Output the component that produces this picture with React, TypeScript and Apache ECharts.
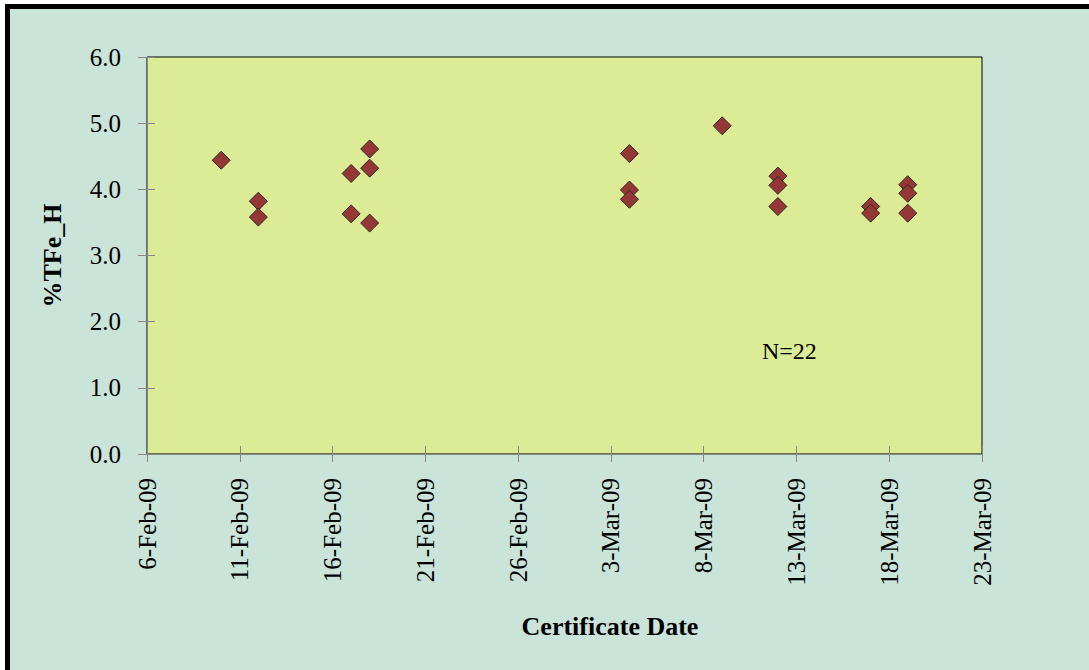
import React, { useEffect, useRef } from "react";
import * as echarts from "echarts";

const certDates: string[] = [
  "2009-02-10",
  "2009-02-12", "2009-02-12",
  "2009-02-17", "2009-02-17",
  "2009-02-18", "2009-02-18", "2009-02-18",
  "2009-03-04", "2009-03-04", "2009-03-04",
  "2009-03-09",
  "2009-03-12", "2009-03-12", "2009-03-12",
  "2009-03-17", "2009-03-17",
  "2009-03-19", "2009-03-19", "2009-03-19",
];
const tfeValues: number[] = [
  4.44,
  3.82, 3.58,
  4.24, 3.63,
  4.61, 4.32, 3.49,
  4.54, 3.99, 3.85,
  4.96,
  4.2, 4.06, 3.74,
  3.74, 3.64,
  4.07, 3.94, 3.64,
];
const xStart = "2009-02-06";
const xEnd = "2009-03-23";
const xStepDays = 5;
const yMin = 0;
const yMax = 6;
const yStep = 1;
const monthNames = ["Jan", "Feb", "Mar", "Apr", "May", "Jun", "Jul", "Aug", "Sep", "Oct", "Nov", "Dec"];
const xTitle = "Certificate Date";
const yTitle = "%TFe_H";
const noteText = "N=22";

const DAY = 86400000;
const toTs = (s: string) => {
  const [y, m, d] = s.split("-").map(Number);
  return Date.UTC(y, m - 1, d);
};
const fmtDate = (v: number) => {
  const d = new Date(v);
  const yy = String(d.getUTCFullYear() % 100).padStart(2, "0");
  return `${d.getUTCDate()}-${monthNames[d.getUTCMonth()]}-${yy}`;
};

const FONT = "'Liberation Serif', 'Times New Roman', serif";
const GRAY = "#868686";

export default function App() {
  const ref = useRef<HTMLDivElement>(null);
  useEffect(() => {
    if (!ref.current) return;
    const chart = echarts.init(ref.current, undefined, { renderer: "svg" });
    const min = toTs(xStart);
    const max = toTs(xEnd);
    const data = certDates.map((d, i) => [toTs(d), tfeValues[i]]);
    const xCommon = {
      type: "value" as const,
      min,
      max,
      interval: xStepDays * DAY,
      splitLine: { show: false },
    };
    const yCommon = {
      type: "value" as const,
      min: yMin,
      max: yMax,
      interval: yStep,
      splitLine: { show: false },
    };
    chart.setOption({
      animation: false,
      backgroundColor: "transparent",
      grid: {
        left: 147,
        right: 107,
        top: 57,
        bottom: 216,
        show: true,
        backgroundColor: "#dbeb96",
        borderColor: "#000",
        borderWidth: 1,
      },
      xAxis: [
        {
          ...xCommon,
          position: "bottom",
          axisLine: { show: true, lineStyle: { color: GRAY, width: 1 } },
          axisTick: { show: true, length: 8, lineStyle: { color: GRAY } },
          axisLabel: {
            rotate: 90,
            margin: 24,
            fontFamily: FONT,
            fontSize: 25,
            color: "#000",
            formatter: (v: number) => fmtDate(v),
          },
        },
        {
          ...xCommon,
          position: "bottom",
          axisLine: { show: false },
          axisTick: { show: true, inside: true, length: 8, lineStyle: { color: GRAY } },
          axisLabel: { show: false },
        },
      ],
      yAxis: [
        {
          ...yCommon,
          position: "left",
          name: yTitle,
          nameLocation: "middle",
          nameGap: 82,
          nameTextStyle: { fontFamily: FONT, fontSize: 26, fontWeight: "bold", color: "#000" },
          axisLine: { show: true, lineStyle: { color: GRAY, width: 1 } },
          axisTick: { show: true, length: 9, lineStyle: { color: GRAY } },
          axisLabel: {
            margin: 26,
            fontFamily: FONT,
            fontSize: 25,
            color: "#000",
            formatter: (v: number) => v.toFixed(1),
          },
        },
        {
          ...yCommon,
          position: "left",
          axisLine: { show: false },
          axisTick: { show: true, inside: true, length: 8, lineStyle: { color: GRAY } },
          axisLabel: { show: false },
        },
      ],
      series: [
        {
          type: "scatter",
          xAxisIndex: 0,
          yAxisIndex: 0,
          symbol: "diamond",
          symbolSize: 18,
          itemStyle: { color: "#953735", borderColor: "#2e2626", borderWidth: 1, opacity: 1 },
          data,
        },
      ],
      graphic: [
        {
          type: "text",
          x: 610,
          y: 626,
          style: {
            text: xTitle,
            fontFamily: FONT,
            fontSize: 26,
            fontWeight: "bold",
            fill: "#000",
            align: "center",
            verticalAlign: "middle",
          },
        },
        {
          type: "text",
          left: 762,
          top: 339,
          style: { text: noteText, fontFamily: FONT, fontSize: 24, fill: "#000" },
        },
      ],
    });
    return () => chart.dispose();
  }, []);
  return (
    <div style={{ position: "absolute", left: 0, top: 0, width: 1089, height: 670, background: "#fff", overflow: "hidden" }}>
      <div
        style={{
          position: "absolute",
          left: 5,
          top: 4,
          width: 1089,
          height: 670,
          borderLeft: "5px solid #000",
          borderTop: "5px solid #000",
          background: "#cae4da",
        }}
      />
      <div ref={ref} style={{ position: "absolute", left: 0, top: 0, width: 1089, height: 670 }} />
    </div>
  );
}
